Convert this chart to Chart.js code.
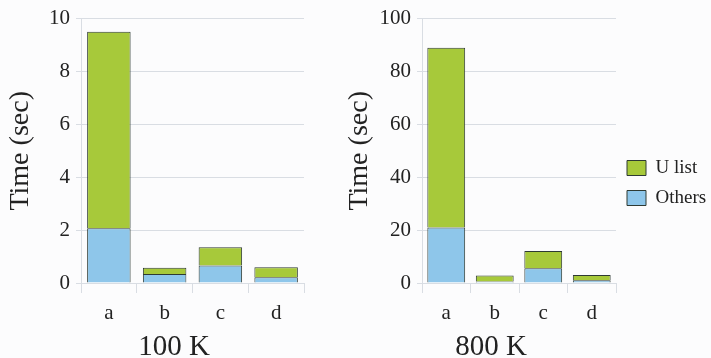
<!DOCTYPE html>
<html>
<head>
<meta charset="utf-8">
<script src="https://cdn.jsdelivr.net/npm/chart.js@4"></script>
<style>
  html, body { margin: 0; padding: 0; background: #fcfcfd; }
  #wrap { position: relative; width: 711px; height: 358px; }
  .box { position: absolute; top: 0; height: 358px; }
  #left { left: 0; width: 340px; }
  #right { left: 340px; width: 371px; }
  .cap {
    position: absolute; top: 329px; width: 120px; margin-left: -60px;
    text-align: center; font: 29px 'Liberation Serif', serif; color: #222;
  }
</style>
</head>
<body>
<div id="wrap">
  <div class="box" id="left"><canvas id="chart100"></canvas></div>
  <div class="box" id="right"><canvas id="chart800"></canvas></div>
  <div class="cap" style="left:174px">100 K</div>
  <div class="cap" style="left:491px">800 K</div>
</div>
<script>
const categories = ['a', 'b', 'c', 'd'];

// 100 K run
const others100 = [2.07, 0.34, 0.66, 0.22];
const ulist100 = [7.43, 0.24, 0.69, 0.38];

// 800 K run
const others800 = [21, 0.6, 5.6, 1.0];
const ulist800 = [68, 2.2, 6.5, 2.0];

const GREEN = '#a7c93a';
const BLUE = '#8ec6ea';
const EDGE = '#2e3a33';
const GRID = '#d9dde3';
const FONT = 'Liberation Serif';

function makeChart(id, others, ulist, yMax, yStep, showLegend, yWidth, padLeft) {
  const ctx = document.getElementById(id).getContext('2d');
  return new Chart(ctx, {
    type: 'bar',
    data: {
      labels: categories,
      datasets: [
        {
          label: 'Others',
          data: others,
          backgroundColor: BLUE,
          borderColor: EDGE,
          borderWidth: 1,
          categoryPercentage: 0.78,
          barPercentage: 1
        },
        {
          label: 'U list',
          data: ulist,
          backgroundColor: GREEN,
          borderColor: EDGE,
          borderWidth: 1,
          categoryPercentage: 0.78,
          barPercentage: 1
        }
      ]
    },
    options: {
      responsive: true,
      maintainAspectRatio: false,
      animation: false,
      layout: { padding: { top: 8, right: showLegend ? 4 : 36, left: padLeft, bottom: 0 } },
      plugins: {
        legend: {
          display: showLegend,
          position: 'right',
          reverse: true,
          labels: {
            color: '#222',
            font: { family: FONT, size: 19 },
            boxWidth: 19,
            boxHeight: 15,
            padding: 11
          }
        },
        tooltip: { enabled: false }
      },
      scales: {
        x: {
          stacked: true,
          grid: { display: true, color: GRID, drawOnChartArea: false, tickLength: 10, offset: true },
          border: { color: GRID },
          ticks: { color: '#222', font: { family: FONT, size: 21 }, padding: 8 },
          afterFit: s => { s.height = 75; }
        },
        y: {
          stacked: true,
          min: 0,
          max: yMax,
          ticks: { stepSize: yStep, color: '#222', font: { family: FONT, size: 21 }, padding: 6 },
          grid: { color: GRID, tickLength: 5 },
          border: { color: GRID },
          title: {
            display: true,
            text: 'Time (sec)',
            color: '#222',
            font: { family: FONT, size: 28 },
            padding: { top: 0, bottom: 2 }
          },
          afterFit: s => { s.width = yWidth; }
        }
      }
    }
  });
}

makeChart('chart100', others100, ulist100, 10, 2, false, 77, 4);
makeChart('chart800', others800, ulist800, 100, 20, true, 79, 3);
</script>
</body>
</html>
